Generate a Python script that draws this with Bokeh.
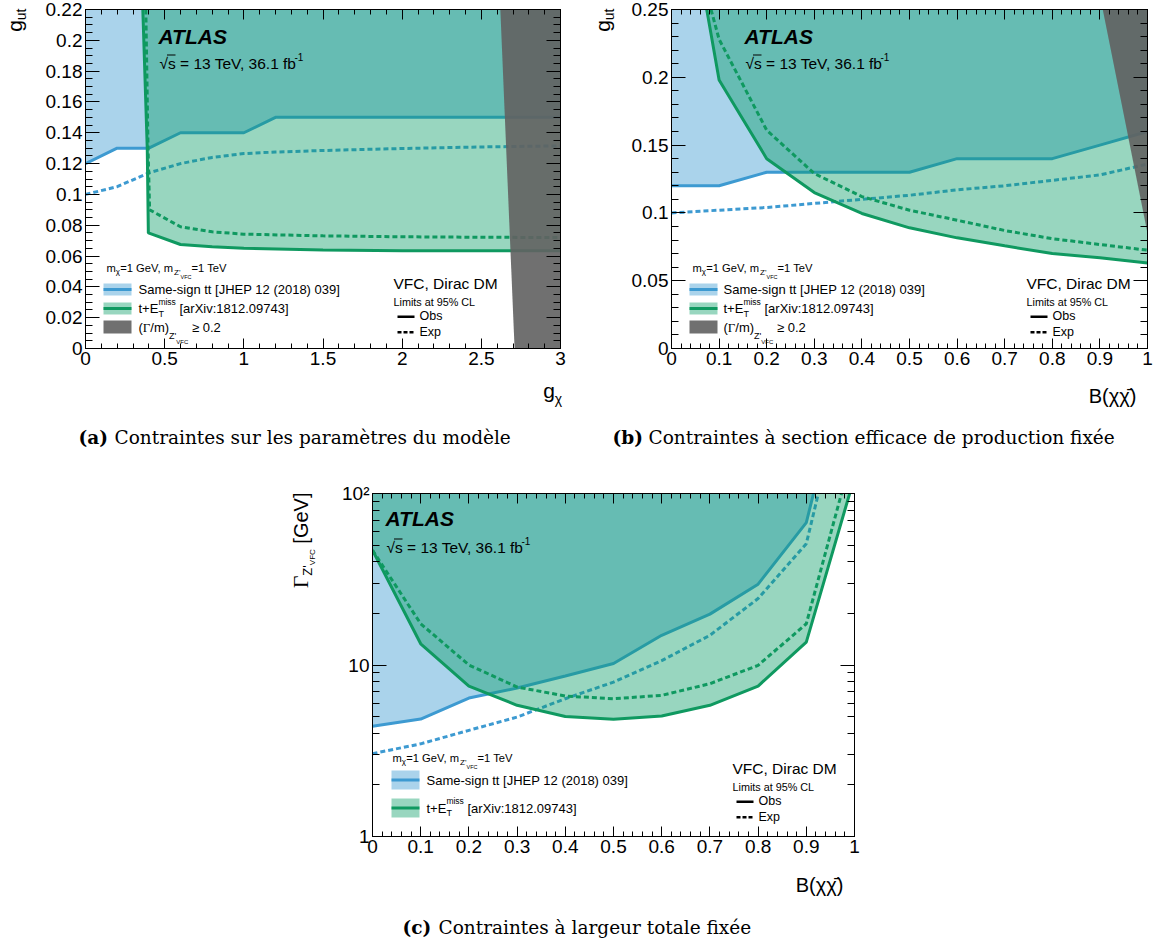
import math
import numpy as np
from bokeh.plotting import figure
from bokeh.models import Label, BoxAnnotation, LinearAxis, LogAxis, Range1d, FixedTicker, Spacer
from bokeh.layouts import row, column
from bokeh.embed import file_html
from bokeh.resources import INLINE

# ======================= DATA =======================
# ---- panel (a): x = g_chi, y = g_ut ----
a_ss_obs_x = [0.0, 0.2, 0.4, 0.6, 1.0, 1.2, 3.0]
a_ss_obs_y = [0.120, 0.130, 0.130, 0.140, 0.140, 0.150, 0.150]
a_ss_exp_x = [0.0, 0.2, 0.4, 0.6, 0.8, 1.0, 1.2, 1.5, 2.0, 2.5, 3.0]
a_ss_exp_y = [0.100, 0.105, 0.114, 0.120, 0.124, 0.1265, 0.1275, 0.1285, 0.1298, 0.1308, 0.1315]
a_mt_obs_x = [0.362, 0.390, 0.397, 0.6, 0.8, 1.0, 1.5, 2.0, 2.5, 3.0]
a_mt_obs_y = [0.220, 0.130, 0.075, 0.0675, 0.066, 0.065, 0.0640, 0.0635, 0.0634, 0.0634]
a_mt_exp_x = [0.381, 0.395, 0.405, 0.6, 0.8, 1.0, 1.5, 2.0, 2.5, 3.0]
a_mt_exp_y = [0.220, 0.130, 0.090, 0.079, 0.0757, 0.0742, 0.0731, 0.0725, 0.0722, 0.0720]
a_wide_x = [2.62, 3.0, 3.0, 2.71]
a_wide_y = [0.22, 0.22, 0.0, 0.0]
a_xlabels = ["0", "0.5", "1", "1.5", "2", "2.5", "3"]
a_ylabels = ["0", "0.02", "0.04", "0.06", "0.08", "0.1", "0.12", "0.14", "0.16", "0.18", "0.2", "0.22"]

# ---- panel (b): x = B(chi chibar), y = g_ut ----
b_ss_obs_x = [0.0, 0.1, 0.2, 0.3, 0.4, 0.5, 0.6, 0.7, 0.8, 0.9, 1.0]
b_ss_obs_y = [0.120, 0.120, 0.130, 0.130, 0.130, 0.130, 0.140, 0.140, 0.140, 0.150, 0.160]
b_ss_exp_x = [0.0, 0.1, 0.2, 0.3, 0.4, 0.5, 0.6, 0.7, 0.8, 0.9, 1.0]
b_ss_exp_y = [0.100, 0.102, 0.104, 0.107, 0.110, 0.113, 0.117, 0.120, 0.124, 0.128, 0.136]
b_mt_obs_x = [0.074, 0.1, 0.2, 0.3, 0.4, 0.5, 0.6, 0.7, 0.8, 0.9, 1.0]
b_mt_obs_y = [0.250, 0.198, 0.140, 0.115, 0.0996, 0.089, 0.0816, 0.0757, 0.070, 0.0669, 0.063]
b_mt_exp_x = [0.083, 0.1, 0.2, 0.3, 0.4, 0.5, 0.6, 0.7, 0.8, 0.9, 1.0]
b_mt_exp_y = [0.250, 0.228, 0.161, 0.129, 0.112, 0.102, 0.0946, 0.087, 0.081, 0.0767, 0.0725]
b_wide_x = [0.906, 1.0, 1.0]
b_wide_y = [0.25, 0.25, 0.085]
b_xlabels = ["0", "0.1", "0.2", "0.3", "0.4", "0.5", "0.6", "0.7", "0.8", "0.9", "1"]
b_ylabels = ["0", "0.05", "0.1", "0.15", "0.2", "0.25"]

# ---- panel (c): x = B(chi chibar), y = Gamma_Z' [GeV] (log) ----
c_ss_obs_x = [0.0, 0.1, 0.2, 0.3, 0.4, 0.5, 0.6, 0.7, 0.8, 0.9, 0.915]
c_ss_obs_y = [4.40, 4.84, 6.42, 7.34, 8.63, 10.2, 14.9, 19.8, 29.6, 67.7, 100.0]
c_ss_exp_x = [0.0, 0.1, 0.2, 0.3, 0.4, 0.5, 0.6, 0.7, 0.8, 0.9, 0.925]
c_ss_exp_y = [3.04, 3.47, 4.16, 4.97, 6.36, 7.95, 10.6, 14.9, 24.4, 51.0, 100.0]
c_mt_obs_x = [0.0, 0.1, 0.2, 0.3, 0.4, 0.5, 0.6, 0.7, 0.8, 0.9, 0.99]
c_mt_obs_y = [46.7, 13.3, 7.54, 5.82, 5.01, 4.82, 5.04, 5.82, 7.54, 13.6, 100.0]
c_mt_exp_x = [0.0, 0.1, 0.2, 0.3, 0.4, 0.5, 0.6, 0.7, 0.8, 0.9, 0.973]
c_mt_exp_y = [46.7, 17.4, 10.0, 7.44, 6.59, 6.36, 6.65, 7.78, 9.95, 17.4, 100.0]
c_xlabels = ["0", "0.1", "0.2", "0.3", "0.4", "0.5", "0.6", "0.7", "0.8", "0.9", "1"]
c_ylabels = ["1", "10", "10²"]
c_yticks = [1.0, 10.0, 100.0]

# ======================= STYLE =======================
SANS = "Liberation Sans"
SERIF = "Liberation Serif"
SERIF_CAP = "DejaVu Serif"
CAP_FS = 18.5
BLUE = "#3d9ad1"
GREEN_FILL = "#0a9d66"
GREEN = "#0f9960"
GRAY = "#626262"
TICK_FS = "19px"

AW = {' ': 278, '!': 278, '(': 333, ')': 333, '+': 584, ',': 278, '-': 333, '.': 278, '/': 278,
      ':': 278, '=': 584, '[': 278, ']': 278, "'": 191, '%': 889, '≥': 549, '√': 549, 'χ': 549,
      'Γ': 578,
      'A': 667, 'B': 667, 'C': 722, 'D': 722, 'E': 667, 'F': 611, 'G': 778, 'H': 722, 'I': 278,
      'J': 500, 'K': 667, 'L': 556, 'M': 833, 'N': 722, 'O': 778, 'P': 667, 'Q': 778, 'R': 722,
      'S': 667, 'T': 611, 'U': 722, 'V': 667, 'W': 944, 'X': 667, 'Y': 667, 'Z': 611,
      'a': 556, 'b': 556, 'c': 500, 'd': 556, 'e': 556, 'f': 278, 'g': 556, 'h': 556, 'i': 222,
      'j': 222, 'k': 500, 'l': 222, 'm': 833, 'n': 556, 'o': 556, 'p': 556, 'q': 556, 'r': 333,
      's': 500, 't': 278, 'u': 556, 'v': 500, 'w': 722, 'x': 500, 'y': 500, 'z': 500}


def tw(s, size):
    return sum(AW.get(ch, 556) for ch in s) / 1000.0 * size


def style_axis(ax, ticks, minor, labels, tin, tmin, show):
    ax.ticker = FixedTicker(ticks=list(ticks), minor_ticks=list(minor))
    ax.major_tick_in = tin
    ax.major_tick_out = 0
    ax.minor_tick_in = tmin
    ax.minor_tick_out = 0
    ax.axis_line_color = "black"
    ax.axis_line_width = 1
    ax.major_tick_line_color = "black"
    ax.minor_tick_line_color = "black"
    if show:
        ax.major_label_overrides = {float(t): l for t, l in zip(ticks, labels)}
        ax.major_label_text_font = SANS
        ax.major_label_text_font_size = TICK_FS
        ax.major_label_text_color = "black"
        ax.major_label_standoff = 3
    else:
        ax.major_label_overrides = {float(t): "" for t in ticks}
        ax.major_label_text_font_size = "1px"
        ax.major_label_text_color = None
        ax.major_label_standoff = 0


class Writer:
    """Text helper: subclasses map page pixel positions to label coordinates."""

    def _label(self, X, Y, text, size, font, style, angle):
        raise NotImplementedError

    def lab(self, X, Y, text, size, font=SANS, style="normal", angle=0.0):
        self._label(X, Y, text, size, font, style, angle)

    def rich(self, X, Y, parts, angle=0.0, align="left"):
        segs = []
        for prt in parts:
            t, s = prt[0], prt[1]
            off = prt[2] if len(prt) > 2 else 0
            adv = prt[3] if len(prt) > 3 and prt[3] is not None else tw(t, s)
            font = prt[4] if len(prt) > 4 else SANS
            lead = len(t) - len(t.lstrip(' '))
            segs.append((t.strip(' '), s, off, adv, font, tw(' ' * lead, s)))
        total = sum(sg[3] for sg in segs)
        pos = -total if align == "right" else 0.0
        for t, s, off, adv, font, lead_w in segs:
            if angle == 0.0:
                self.lab(X + pos + lead_w, Y + off, t, s, font=font)
            else:
                self.lab(X + off, Y - pos - lead_w, t, s, font=font, angle=math.pi / 2)
            pos += adv


class Panel(Writer):
    def __init__(self, px0, py0, width, height, L, T, R, B, xr, yr,
                 xticks, xminor, xlabels, yticks, yminor, ylabels, ylog=False):
        p = figure(width=width, height=height, x_range=Range1d(*xr), y_range=Range1d(*yr),
                   y_axis_type="log" if ylog else "linear", output_backend="svg",
                   toolbar_location=None,
                   min_border_left=L - px0, min_border_right=px0 + width - R,
                   min_border_top=T - py0, min_border_bottom=py0 + height - B,
                   background_fill_color="white", border_fill_color="white",
                   outline_line_color="black")
        p.grid.visible = False
        style_axis(p.xaxis[0], xticks, xminor, xlabels, 10, 5, True)
        style_axis(p.yaxis[0], yticks, yminor, ylabels, 14, 7, True)
        top = LinearAxis()
        style_axis(top, xticks, xminor, None, 10, 5, False)
        p.add_layout(top, "above")
        right = LogAxis() if ylog else LinearAxis()
        style_axis(right, yticks, yminor, None, 14, 7, False)
        p.add_layout(right, "right")
        self.p, self.L, self.T, self.R, self.B = p, L, T, R, B

    def _label(self, X, Y, text, size, font, style, angle):
        self.p.add_layout(Label(x=X - self.L, y=self.B - Y, x_units="screen", y_units="screen",
                                text=text, text_font=font, text_font_size=f"{size}px",
                                text_font_style=style, text_align="left", text_baseline="middle",
                                angle=angle, text_color="black"))

    def box(self, X1, Y1, X2, Y2, color, alpha=1.0):
        self.p.add_layout(BoxAnnotation(left=X1 - self.L, right=X2 - self.L,
                                        top=self.B - Y1, bottom=self.B - Y2,
                                        left_units="screen", right_units="screen",
                                        top_units="screen", bottom_units="screen",
                                        fill_color=color, fill_alpha=alpha, line_color=None))


class Overlay(Writer):
    """Transparent full-page figure that carries the texts lying outside the plot frames."""

    def __init__(self, width, height):
        p = figure(width=width, height=height, x_range=Range1d(0, width), y_range=Range1d(height, 0),
                   output_backend="svg", toolbar_location=None,
                   x_axis_location=None, y_axis_location=None,
                   min_border_left=0, min_border_right=0, min_border_top=0, min_border_bottom=0,
                   background_fill_color=None, border_fill_color=None, outline_line_color=None,
                   margin=(-height, 0, 0, 0))
        p.grid.visible = False
        self.p = p

    def _label(self, X, Y, text, size, font, style, angle):
        self.p.add_layout(Label(x=X, y=Y, text=text, text_font=font, text_font_size=f"{size}px",
                                text_font_style=style, text_align="left", text_baseline="middle",
                                angle=angle, text_color="black"))


def draw_curves(P, ss_ox, ss_oy, ss_ex, ss_ey, mt_ox, mt_oy, mt_ex, mt_ey, xmin, xmax, ytop,
                wide_x=None, wide_y=None):
    p = P.p
    bx = list(ss_ox) + [xmax, xmin]
    by = list(ss_oy) + [ytop, ytop]
    p.patch(bx, by, fill_color=BLUE, fill_alpha=0.44, line_color=None)
    p.line(ss_ex, ss_ey, line_color=BLUE, line_width=3, line_dash="5 3")
    p.line(ss_ox, ss_oy, line_color=BLUE, line_width=3)
    gx = list(mt_ox) + [xmax, mt_ox[0]]
    gy = list(mt_oy) + [ytop, ytop]
    p.patch(gx, gy, fill_color=GREEN_FILL, fill_alpha=0.42, line_color=None)
    p.line(mt_ex, mt_ey, line_color=GREEN, line_width=3, line_dash="5 3")
    p.line(mt_ox, mt_oy, line_color=GREEN, line_width=3)
    if wide_x is not None:
        p.patch(wide_x, wide_y, fill_color=GRAY, fill_alpha=0.91, line_color=None)


def atlas(P, X, Y1, Y2):
    P.lab(X, Y1, "ATLAS", 21, style="bold italic")
    P.rich(X + 1, Y2, [("√s = 13 TeV, 36.1 fb", 15.5, 0, 135), ("-1", 10, -7)])
    P.box(X + 8.5, Y2 - 9, X + 17, Y2 - 8, "black")


def header(P, X, Y):
    P.rich(X, Y, [("m", 11.2), ("χ", 8, 4), ("=1 GeV, m", 11.2), ("Z'", 8, 5), ("VFC", 5.5, 9),
                  ("=1 TeV", 11.2)])


def entry(P, X1, X2, Y1, Y2, fill, alpha, line, text_parts, tx):
    P.box(X1, Y1, X2, Y2, fill, alpha)
    if line is not None:
        yc = (Y1 + Y2) / 2.0
        P.box(X1, yc - 1.5, X2, yc + 1.5, line, 1.0)
    P.rich(tx, (Y1 + Y2) / 2.0, text_parts)


SS_TXT = [("Same-sign tt [JHEP 12 (2018) 039]", 13)]
MT_TXT = [("t+E", 13), ("miss", 8.5, -7, 0), ("T", 9, 5, tw("miss", 8.5)), (" [arXiv:1812.09743]", 13)]
GM_TXT = [("(", 13), ("Γ", 13, 0, None, SERIF), ("/m)", 13), ("Z'", 9, 9),
          ("VFC", 6, 15), (" ≥ 0.2", 13)]


def vfc_block(P, X, Y):
    P.lab(X, Y, "VFC, Dirac DM", 15.5)
    P.lab(X, Y + 18, "Limits at 95% CL", 10.8)
    P.box(X + 4, Y + 32, X + 21, Y + 34.5, "black")
    P.lab(X + 26, Y + 32.5, "Obs", 12.5)
    for k in range(3):
        P.box(X + 4 + 6 * k, Y + 47.5, X + 8 + 6 * k, Y + 50, "black")
    P.lab(X + 26, Y + 48.5, "Exp", 12.5)


def caption(W, X, Y, tag, text):
    W.lab(X, Y, tag, CAP_FS, font=SERIF_CAP, style="bold")
    W.lab(X + 36, Y, text, CAP_FS, font=SERIF_CAP)


PAGE_W, PAGE_H = 1154, 945
OV = Overlay(PAGE_W, PAGE_H)

# ======================= PANEL (a) =======================
a_xt = [float(s) for s in a_xlabels]
a_yt = [float(s) for s in a_ylabels]
PA = Panel(0, 0, 588, 460, 85, 9, 560, 348, (0, 3), (0, 0.22),
           a_xt, np.arange(0, 3.0001, 0.1), a_xlabels, a_yt, np.arange(0, 0.2201, 0.005), a_ylabels)
draw_curves(PA, a_ss_obs_x, a_ss_obs_y, a_ss_exp_x, a_ss_exp_y, a_mt_obs_x, a_mt_obs_y,
            a_mt_exp_x, a_mt_exp_y, 0.0, 3.0, 0.22, a_wide_x, a_wide_y)
atlas(PA, 158, 36, 63)
header(PA, 106, 267)
entry(PA, 103, 131, 283, 295, BLUE, 0.44, BLUE, SS_TXT, 138)
entry(PA, 103, 131, 302, 314, GREEN_FILL, 0.42, GREEN, MT_TXT, 138)
entry(PA, 103, 131, 320, 333, GRAY, 0.91, None, GM_TXT, 138)
vfc_block(PA, 393, 283)
OV.rich(562, 390, [("g", 21), ("χ", 14, 8)], align="right")
OV.rich(14, 8, [("g", 21), ("ut", 14, 6)], angle=math.pi / 2, align="right")
caption(OV, 78, 437, "(a)", "Contraintes sur les paramètres du modèle")

# ======================= PANEL (b) =======================
b_xt = [float(s) for s in b_xlabels]
b_yt = [float(s) for s in b_ylabels]
PB = Panel(588, 0, 565, 460, 671, 9, 1147, 348, (0, 1), (0, 0.25),
           b_xt, np.arange(0, 1.0001, 0.02), b_xlabels, b_yt, np.arange(0, 0.2501, 0.01), b_ylabels)
draw_curves(PB, b_ss_obs_x, b_ss_obs_y, b_ss_exp_x, b_ss_exp_y, b_mt_obs_x, b_mt_obs_y,
            b_mt_exp_x, b_mt_exp_y, 0.0, 1.0, 0.25, b_wide_x, b_wide_y)
atlas(PB, 744, 36, 63)
header(PB, 692, 267)
entry(PB, 689, 717, 283, 295, BLUE, 0.44, BLUE, SS_TXT, 723)
entry(PB, 689, 717, 302, 314, GREEN_FILL, 0.42, GREEN, MT_TXT, 723)
entry(PB, 689, 717, 320, 333, GRAY, 0.91, None, GM_TXT, 723)
vfc_block(PB, 1026, 283)
OV.rich(1148, 395, [("B(χχ\u0304)", 20)], align="right")
OV.rich(602, 8, [("g", 21), ("ut", 14, 6)], angle=math.pi / 2, align="right")
caption(OV, 612, 437, "(b)", "Contraintes à section efficace de production fixée")

# ======================= PANEL (c) =======================
c_xt = [float(s) for s in c_xlabels]
c_minor = [m * d for d in (1.0, 10.0) for m in range(2, 10)]
PC = Panel(280, 460, 620, 485, 372, 493, 854, 836, (0, 1), (1, 100),
           c_xt, np.arange(0, 1.0001, 0.02), c_xlabels, c_yticks, c_minor, c_ylabels, ylog=True)
draw_curves(PC, c_ss_obs_x, c_ss_obs_y, c_ss_exp_x, c_ss_exp_y, c_mt_obs_x, c_mt_obs_y,
            c_mt_exp_x, c_mt_exp_y, 0.0, 1.0, 100.0)
atlas(PC, 385, 518, 547)
header(PC, 392, 757)
entry(PC, 391, 419, 770, 789, BLUE, 0.44, BLUE, SS_TXT, 426)
entry(PC, 391, 419, 798, 817, GREEN_FILL, 0.42, GREEN, MT_TXT, 426)
vfc_block(PC, 732, 768)
OV.rich(855, 884, [("B(χχ\u0304)", 20)], align="right")
OV.rich(300, 492, [("Γ", 22, 0, None, SERIF), ("Z'", 13, 7), ("VFC", 8, 12),
                   (" [GeV]", 20)], angle=math.pi / 2, align="right")
caption(OV, 402, 927, "(c)", "Contraintes à largeur totale fixée")

layout = column(row(PA.p, PB.p), row(Spacer(width=280, height=485), PC.p), OV.p)
open("out.html", "w").write(file_html(layout, INLINE))
